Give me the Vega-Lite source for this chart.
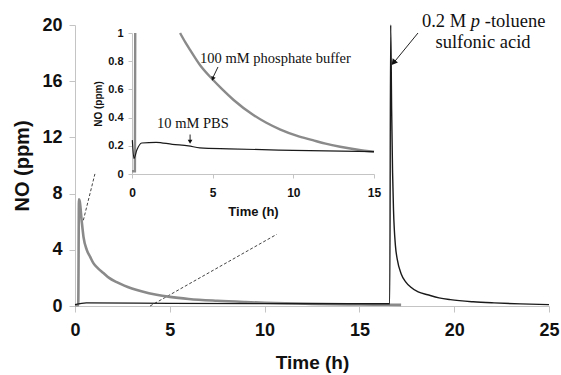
{
  "$schema": "https://vega.github.io/schema/vega-lite/v6.json",
  "width": 474,
  "height": 281,
  "autosize": {"type": "none"},
  "padding": {"left": 75, "top": 25, "right": 12, "bottom": 69},
  "background": "white",
  "config": {
    "view": {"stroke": null},
    "axis": {
      "grid": false,
      "labelFont": "Liberation Sans",
      "titleFont": "Liberation Sans",
      "labelFontWeight": "bold",
      "titleFontWeight": "bold",
      "labelColor": "#111111",
      "titleColor": "#111111",
      "domainColor": "#c4c4c4",
      "tickColor": "#c4c4c4",
      "labelFlush": false,
      "labelOverlap": false
    }
  },
  "datasets": {
    "mainGrey": [
      {"t": 0, "ppm": 0.05}, {"t": 0.17, "ppm": 0.05}, {"t": 0.21, "ppm": 7.6}, {"t": 0.25, "ppm": 7.45},
      {"t": 0.35, "ppm": 6.1}, {"t": 0.45, "ppm": 4.9}, {"t": 0.62, "ppm": 4.0}, {"t": 0.8, "ppm": 3.5},
      {"t": 0.97, "ppm": 3.05}, {"t": 1.2, "ppm": 2.7}, {"t": 1.5, "ppm": 2.35}, {"t": 1.8, "ppm": 2.0},
      {"t": 2.2, "ppm": 1.7}, {"t": 2.6, "ppm": 1.45}, {"t": 3.0, "ppm": 1.25}, {"t": 3.5, "ppm": 1.05},
      {"t": 4.3, "ppm": 0.8}, {"t": 5.0, "ppm": 0.65}, {"t": 6.0, "ppm": 0.5}, {"t": 7.5, "ppm": 0.37},
      {"t": 9.0, "ppm": 0.28}, {"t": 10.0, "ppm": 0.23}, {"t": 12.5, "ppm": 0.15}, {"t": 15.0, "ppm": 0.11},
      {"t": 16.5, "ppm": 0.09}, {"t": 17.2, "ppm": 0.08}
    ],
    "mainBlack": [
      {"t": 0, "ppm": 0.1}, {"t": 0.6, "ppm": 0.22}, {"t": 5, "ppm": 0.19}, {"t": 10, "ppm": 0.17},
      {"t": 16.6, "ppm": 0.16}, {"t": 16.65, "ppm": 20.0}, {"t": 16.7, "ppm": 14.0}, {"t": 16.75, "ppm": 9.5},
      {"t": 16.8, "ppm": 6.8}, {"t": 16.9, "ppm": 4.3}, {"t": 17.0, "ppm": 3.3}, {"t": 17.2, "ppm": 2.3},
      {"t": 17.45, "ppm": 1.7}, {"t": 17.7, "ppm": 1.35}, {"t": 18.1, "ppm": 1.0}, {"t": 18.6, "ppm": 0.8},
      {"t": 19.2, "ppm": 0.58}, {"t": 19.8, "ppm": 0.45}, {"t": 21.0, "ppm": 0.3}, {"t": 22.1, "ppm": 0.22},
      {"t": 23.5, "ppm": 0.15}, {"t": 25.0, "ppm": 0.1}
    ],
    "zoomGuides": [
      {"t": 0.44, "ppm": 6.1, "t2": 1.05, "ppm2": 9.4},
      {"t": 3.96, "ppm": 0, "t2": 10.64, "ppm2": 5.1}
    ],
    "acidArrow": [
      {"t": 18.09, "ppm": 19.43, "t2": 16.8, "ppm2": 17.3}
    ],
    "acidHead": [{"t": 16.83, "ppm": 17.37}],
    "acidText1": [{"t": 20.63, "ppm": 19.86, "label": "0.2 M"}],
    "acidTextP": [{"t": 20.87, "ppm": 19.86, "label": "p"}],
    "acidText2": [{"t": 21.61, "ppm": 19.86, "label": "-toluene"}],
    "acidText3": [{"t": 21.52, "ppm": 18.36, "label": "sulfonic acid"}],
    "insetGrey": [
      {"t": 0, "ppm": 0.02, "part": "a"}, {"t": 0.18, "ppm": 0.02, "part": "a"}, {"t": 0.2, "ppm": 1.0, "part": "a"},
      {"t": 2.98, "ppm": 1.0, "part": "b"}, {"t": 3.3, "ppm": 0.935, "part": "b"}, {"t": 3.6, "ppm": 0.88, "part": "b"},
      {"t": 4.2, "ppm": 0.775, "part": "b"}, {"t": 5.0, "ppm": 0.67, "part": "b"}, {"t": 5.6, "ppm": 0.6, "part": "b"},
      {"t": 6.3, "ppm": 0.525, "part": "b"}, {"t": 7.5, "ppm": 0.42, "part": "b"}, {"t": 8.3, "ppm": 0.365, "part": "b"},
      {"t": 9.2, "ppm": 0.315, "part": "b"}, {"t": 10.2, "ppm": 0.272, "part": "b"}, {"t": 11.2, "ppm": 0.24, "part": "b"},
      {"t": 12.0, "ppm": 0.215, "part": "b"}, {"t": 12.9, "ppm": 0.193, "part": "b"}, {"t": 14.0, "ppm": 0.172, "part": "b"},
      {"t": 15.0, "ppm": 0.158, "part": "b"}
    ],
    "insetBlack": [
      {"t": 0.02, "ppm": 0.24}, {"t": 0.12, "ppm": 0.11}, {"t": 0.3, "ppm": 0.17}, {"t": 0.6, "ppm": 0.22},
      {"t": 1.5, "ppm": 0.225}, {"t": 2.5, "ppm": 0.21}, {"t": 3.5, "ppm": 0.2}, {"t": 4.2, "ppm": 0.185},
      {"t": 6.0, "ppm": 0.178}, {"t": 10.0, "ppm": 0.168}, {"t": 15.0, "ppm": 0.158}
    ],
    "insetArrows": [
      {"t": 5.33, "ppm": 0.759, "t2": 5.0, "ppm2": 0.68},
      {"t": 3.6, "ppm": 0.28, "t2": 3.6, "ppm2": 0.235}
    ],
    "bufferHead": [{"t": 5.02, "ppm": 0.68}],
    "pbsHead": [{"t": 3.6, "ppm": 0.233}],
    "bufferText": [{"t": 4.22, "ppm": 0.787, "label": "100 mM phosphate buffer"}],
    "pbsText": [{"t": 1.55, "ppm": 0.326, "label": "10 mM PBS"}]
  },
  "layer": [
    {
      "encoding": {
        "x": {
          "field": "t", "type": "quantitative",
          "scale": {"domain": [0, 25], "nice": false},
          "axis": {
            "orient": "bottom", "values": [0, 5, 10, 15, 20, 25], "title": "Time (h)",
            "labelFontSize": 18, "titleFontSize": 19, "tickSize": 6, "labelPadding": 9, "titlePadding": 14
          }
        },
        "y": {
          "field": "ppm", "type": "quantitative",
          "scale": {"domain": [0, 20], "nice": false},
          "axis": {
            "orient": "left", "values": [0, 4, 8, 12, 16, 20], "title": "NO (ppm)",
            "labelFontSize": 18, "titleFontSize": 20, "tickSize": 6, "labelPadding": 7, "titlePadding": 9
          }
        }
      },
      "layer": [
        {"data": {"name": "zoomGuides"}, "mark": {"type": "rule", "color": "#444444", "strokeWidth": 1, "strokeDash": [3, 2]},
         "encoding": {"x2": {"field": "t2"}, "y2": {"field": "ppm2"}}},
        {"data": {"name": "mainGrey"}, "mark": {"type": "line", "color": "#8a8a8a", "strokeWidth": 2.6, "interpolate": "monotone"}},
        {"data": {"name": "mainBlack"}, "mark": {"type": "line", "color": "#1a1a1a", "strokeWidth": 1.4, "interpolate": "monotone"}},
        {"data": {"name": "acidArrow"}, "mark": {"type": "rule", "color": "#222222", "strokeWidth": 1},
         "encoding": {"x2": {"field": "t2"}, "y2": {"field": "ppm2"}}},
        {"data": {"name": "acidHead"}, "mark": {"type": "point", "shape": "triangle", "filled": true, "color": "#111111", "size": 45, "angle": 219, "opacity": 1}},
        {"data": {"name": "acidText1"}, "mark": {"type": "text", "font": "Liberation Serif", "fontSize": 18.5, "align": "right", "baseline": "alphabetic", "color": "#111111"},
         "encoding": {"text": {"field": "label"}}},
        {"data": {"name": "acidTextP"}, "mark": {"type": "text", "font": "Liberation Serif", "fontSize": 18.5, "fontStyle": "italic", "align": "left", "baseline": "alphabetic", "color": "#111111"},
         "encoding": {"text": {"field": "label"}}},
        {"data": {"name": "acidText2"}, "mark": {"type": "text", "font": "Liberation Serif", "fontSize": 18.5, "align": "left", "baseline": "alphabetic", "color": "#111111"},
         "encoding": {"text": {"field": "label"}}},
        {"data": {"name": "acidText3"}, "mark": {"type": "text", "font": "Liberation Serif", "fontSize": 18.5, "align": "center", "baseline": "alphabetic", "color": "#111111"},
         "encoding": {"text": {"field": "label"}}}
      ]
    },
    {
      "encoding": {
        "x": {
          "field": "t", "type": "quantitative",
          "scale": {"domain": [0, 15], "nice": false, "range": [57, 299]},
          "axis": {
            "orient": "bottom", "offset": -132, "values": [0, 5, 10, 15], "title": "Time (h)",
            "labelFontSize": 12, "titleFontSize": 13, "tickSize": 4, "labelPadding": 9, "titlePadding": 7
          }
        },
        "y": {
          "field": "ppm", "type": "quantitative",
          "scale": {"domain": [0, 1], "nice": false, "range": [149, 8]},
          "axis": {
            "orient": "left", "offset": -57, "values": [0, 0.2, 0.4, 0.6, 0.8, 1], "format": "~g", "title": "NO (ppm)",
            "labelFontSize": 11, "titleFontSize": 10, "tickSize": 4, "labelPadding": 5, "titlePadding": 4
          }
        }
      },
      "layer": [
        {"data": {"name": "insetGrey"}, "mark": {"type": "line", "color": "#8a8a8a", "strokeWidth": 2.4, "interpolate": "monotone"},
         "encoding": {"detail": {"field": "part"}}},
        {"data": {"name": "insetBlack"}, "mark": {"type": "line", "color": "#1a1a1a", "strokeWidth": 1.2, "interpolate": "monotone"}},
        {"data": {"name": "insetArrows"}, "mark": {"type": "rule", "color": "#222222", "strokeWidth": 1},
         "encoding": {"x2": {"field": "t2"}, "y2": {"field": "ppm2"}}},
        {"data": {"name": "bufferHead"}, "mark": {"type": "point", "shape": "triangle", "filled": true, "color": "#111111", "size": 22, "angle": 201, "opacity": 1}},
        {"data": {"name": "pbsHead"}, "mark": {"type": "point", "shape": "triangle", "filled": true, "color": "#111111", "size": 22, "angle": 180, "opacity": 1}},
        {"data": {"name": "bufferText"}, "mark": {"type": "text", "font": "Liberation Serif", "fontSize": 14.5, "align": "left", "baseline": "alphabetic", "color": "#111111"},
         "encoding": {"text": {"field": "label"}}},
        {"data": {"name": "pbsText"}, "mark": {"type": "text", "font": "Liberation Serif", "fontSize": 14.5, "align": "left", "baseline": "alphabetic", "color": "#111111"},
         "encoding": {"text": {"field": "label"}}}
      ]
    }
  ],
  "resolve": {
    "scale": {"x": "independent", "y": "independent"},
    "axis": {"x": "independent", "y": "independent"}
  }
}
